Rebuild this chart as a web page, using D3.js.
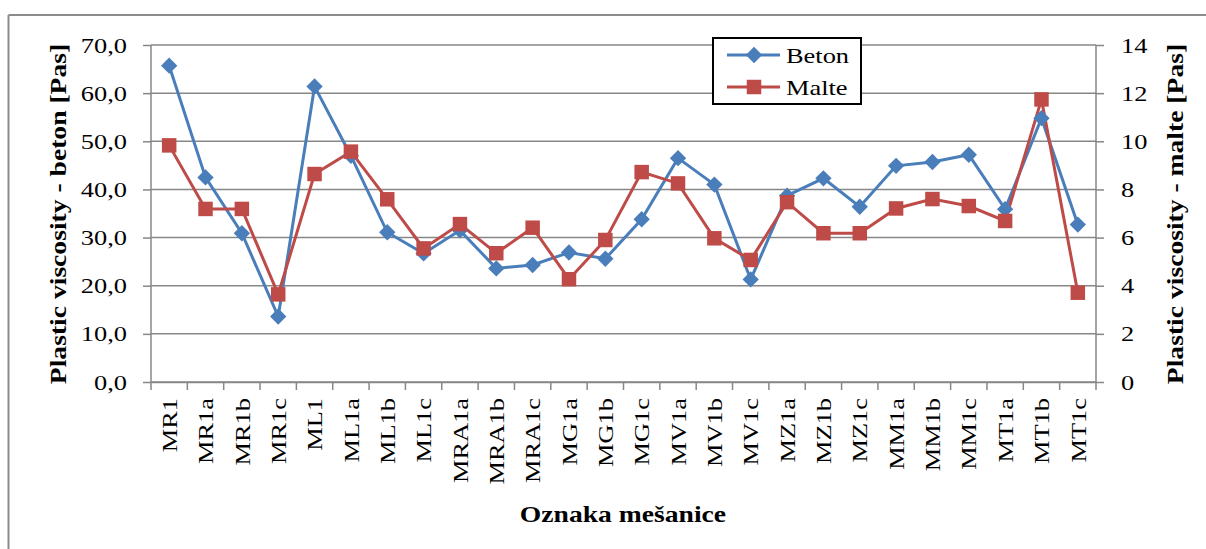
<!DOCTYPE html>
<html>
<head>
<meta charset="utf-8">
<script src="https://cdn.jsdelivr.net/npm/d3@7"></script>
<style>
  body { margin: 0; background: #fff; }
  svg text { font-family: "Liberation Serif", "Times New Roman", serif; fill: #000; }
</style>
</head>
<body>
<div id="chart"></div>
<script>
// mix labels and measured plastic viscosity
var categories = ["MR1", "MR1a", "MR1b", "MR1c", "ML1", "ML1a", "ML1b", "ML1c",
  "MRA1a", "MRA1b", "MRA1c", "MG1a", "MG1b", "MG1c", "MV1a", "MV1b", "MV1c",
  "MZ1a", "MZ1b", "MZ1c", "MM1a", "MM1b", "MM1c", "MT1a", "MT1b", "MT1c"];
var beton = [65.7, 42.5, 30.9, 13.6, 61.4, 47.0, 31.1, 26.7, 31.5, 23.6, 24.3, 26.9, 25.6,
  33.8, 46.5, 41.0, 21.3, 38.7, 42.3, 36.4, 44.9, 45.7, 47.2, 35.9, 54.8, 32.7];
var malte = [9.83, 7.19, 7.19, 3.64, 8.64, 9.57, 7.59, 5.55, 6.56, 5.35, 6.41, 4.27, 5.90,
  8.72, 8.25, 5.97, 5.07, 7.47, 6.18, 6.18, 7.21, 7.60, 7.31, 6.69, 11.74, 3.71];
var leftTicks = [0, 10, 20, 30, 40, 50, 60, 70];
var rightTicks = [0, 2, 4, 6, 8, 10, 12, 14];

var W = 1206, H = 549;
var margin = { top: 45, right: 110, bottom: 167, left: 151 };
var width = W - margin.left - margin.right,
  height = H - margin.top - margin.bottom;
var blue = "#4A7EBB", red = "#BE4B48", grid = "#878787";
var serif = "'Liberation Serif', 'Times New Roman', serif";
var stretch = 1.2; // glyphs in the original are wider than Times

var svg = d3.select("#chart").append("svg")
  .attr("width", W)
  .attr("height", H);

// chart frame (only top and left edges visible)
svg.append("line").attr("x1", 8.5).attr("y1", 15).attr("x2", W).attr("y2", 15)
  .style("stroke", "#8c8c8c").style("stroke-width", 2);
svg.append("line").attr("x1", 8.5).attr("y1", 15).attr("x2", 8.5).attr("y2", H)
  .style("stroke", "#8c8c8c").style("stroke-width", 2);

var g = svg.append("g")
  .attr("transform", "translate(" + margin.left + "," + margin.top + ")");

var x = d3.scaleBand().domain(categories).range([0, width]);
var yL = d3.scaleLinear().domain([0, 70]).range([height, 0]);
var yR = d3.scaleLinear().domain([0, 14]).range([height, 0]);

// gridlines
g.append("g").selectAll("line")
  .data(leftTicks)
  .enter().append("line")
  .attr("x1", 0).attr("x2", width)
  .attr("y1", function (d) { return yL(d); })
  .attr("y2", function (d) { return yL(d); })
  .style("stroke", grid).style("stroke-width", 1.5);

var fmt = function (d) { return d3.format(".1f")(d).replace(".", ","); };

// left axis
var axL = g.append("g")
  .call(d3.axisLeft(yL).tickValues(leftTicks).tickFormat(fmt).tickSize(8).tickPadding(16));
// right axis
var axR = g.append("g")
  .attr("transform", "translate(" + width + ",0)")
  .call(d3.axisRight(yR).tickValues(rightTicks).tickSize(8).tickPadding(17));
// bottom axis, ticks at category boundaries
var axB = g.append("g")
  .attr("transform", "translate(0," + height + ")")
  .call(d3.axisBottom(x).tickSize(0).tickPadding(0));

[axL, axR, axB].forEach(function (a) {
  a.attr("font-family", null);
  a.select(".domain").style("stroke", grid).style("stroke-width", 1.5);
  a.selectAll(".tick line").style("stroke", grid).style("stroke-width", 1.5);
  a.selectAll("text").style("font-size", "22px");
});
axL.select(".domain").attr("d", "M0," + height + "V0");
axR.select(".domain").attr("d", "M0," + height + "V0");

axB.selectAll(".tick text")
  .attr("transform", "rotate(-90)")
  .attr("text-anchor", "end")
  .attr("x", -16)
  .attr("y", 0)
  .attr("dy", "0.35em");

var bounds = d3.range(categories.length + 1).map(function (i) { return i * x.step(); });
axB.selectAll(".bnd")
  .data(bounds)
  .enter().append("line")
  .attr("class", "bnd")
  .attr("x1", function (d) { return d; }).attr("x2", function (d) { return d; })
  .attr("y1", 0).attr("y2", 8)
  .style("stroke", grid).style("stroke-width", 1.5);

// series
var cx = function (d, i) { return x(categories[i]) + x.bandwidth() / 2; };

g.append("path")
  .datum(beton)
  .attr("d", d3.line().x(cx).y(function (d) { return yL(d); }))
  .style("fill", "none").style("stroke", blue).style("stroke-width", 3);
g.append("path")
  .datum(malte)
  .attr("d", d3.line().x(cx).y(function (d) { return yR(d); }))
  .style("fill", "none").style("stroke", red).style("stroke-width", 3);

var diamond = d3.symbol().type(d3.symbolDiamond2).size(170);
var square = d3.symbol().type(d3.symbolSquare).size(210);

g.selectAll(".mb")
  .data(beton)
  .enter().append("path")
  .attr("class", "mb")
  .attr("d", diamond)
  .attr("transform", function (d, i) { return "translate(" + cx(d, i) + "," + yL(d) + ")"; })
  .style("fill", blue);
g.selectAll(".mm")
  .data(malte)
  .enter().append("path")
  .attr("class", "mm")
  .attr("d", square)
  .attr("transform", function (d, i) { return "translate(" + cx(d, i) + "," + yR(d) + ")"; })
  .style("fill", red);

// axis titles
svg.append("text")
  .attr("transform", "translate(66,214) rotate(-90)")
  .attr("text-anchor", "middle")
  .style("font-weight", "bold").style("font-size", "23px")
  .text("Plastic viscosity - beton [Pas]");
svg.append("text")
  .attr("transform", "translate(1183,214) rotate(-90)")
  .attr("text-anchor", "middle")
  .style("font-weight", "bold").style("font-size", "23px")
  .text("Plastic viscosity - malte [Pas]");
svg.append("text")
  .attr("x", 623).attr("y", 522)
  .attr("text-anchor", "middle")
  .style("font-weight", "bold").style("font-size", "23px")
  .text("Oznaka mešanice");

// legend
var leg = svg.append("g");
leg.append("rect")
  .attr("x", 713).attr("y", 38).attr("width", 148).attr("height", 66)
  .style("fill", "#fff").style("stroke", "#000").style("stroke-width", 2);
var items = [{ name: "Beton", color: blue, sym: diamond }, { name: "Malte", color: red, sym: square }];
items.forEach(function (it, i) {
  var yy = 55 + i * 32;
  leg.append("line").attr("x1", 727).attr("x2", 780).attr("y1", yy).attr("y2", yy)
    .style("stroke", it.color).style("stroke-width", 3);
  leg.append("path").attr("d", it.sym).attr("transform", "translate(754," + yy + ")")
    .style("fill", it.color);
  leg.append("text").attr("x", 786).attr("y", yy).attr("dy", "0.35em")
    .style("font-size", "22px")
    .text(it.name);
});

// widen the glyphs like the original
svg.selectAll("text")
  .style("font-family", serif)
  .each(function () {
    var w = this.getComputedTextLength();
    d3.select(this).attr("textLength", w * stretch).attr("lengthAdjust", "spacingAndGlyphs");
  });
</script>
</body>
</html>
